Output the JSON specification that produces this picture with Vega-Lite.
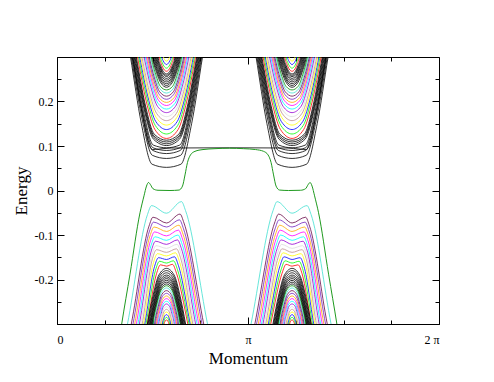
{
"$schema":"https://vega.github.io/schema/vega-lite/v6.json",
"width":382,"height":267,"autosize":"none",
"padding":{"left":57,"top":57,"right":55,"bottom":58},
"background":"white",
"config":{"view":{"stroke":"black","strokeWidth":1},
"axis":{"grid":false,"domainColor":"black","tickColor":"black","labelColor":"black","titleColor":"black","labelFont":"Liberation Serif","titleFont":"Liberation Serif","labelFontSize":12,"titleFontSize":17,"titleFontWeight":"normal","tickWidth":1}},
"datasets":{
"bands":[
{"b":"c1","c":"black","x":[0.3565,0.3848,0.4414,0.4979,0.5733,0.6487,0.7052,0.7618,0.7901,1.4475,1.4192,1.3626,1.3061,1.2307,1.1553,1.0988,1.0422,1.0139],"y":[0.374,0.3,0.151,0.059,0.052,0.059,0.151,0.3,0.374,0.374,0.3,0.151,0.059,0.052,0.059,0.151,0.3,0.374]},
{"b":"c2","c":"black","x":[0.3614,0.389,0.4443,0.4996,0.5733,0.647,0.7023,0.7576,0.7852,1.4426,1.415,1.3597,1.3044,1.2307,1.157,1.1017,1.0464,1.0188],"y":[0.368,0.3,0.163,0.079,0.072,0.079,0.163,0.3,0.368,0.368,0.3,0.163,0.079,0.072,0.079,0.163,0.3,0.368]},
{"b":"c3","c":"black","x":[0.3662,0.3932,0.4472,0.5013,0.5733,0.6453,0.6994,0.7534,0.7804,1.4378,1.4108,1.3568,1.3027,1.2307,1.1587,1.1046,1.0506,1.0236],"y":[0.365,0.3,0.17,0.09,0.083,0.09,0.17,0.3,0.365,0.365,0.3,0.17,0.09,0.083,0.09,0.17,0.3,0.365]},
{"b":"c4","c":"black","x":[0.3704,0.3969,0.4498,0.5027,0.5733,0.6439,0.6968,0.7497,0.7762,1.4336,1.4071,1.3542,1.3013,1.2307,1.1601,1.1072,1.0543,1.0278],"y":[0.363,0.3,0.174,0.096,0.09,0.096,0.174,0.3,0.363,0.363,0.3,0.174,0.096,0.09,0.096,0.174,0.3,0.363]},
{"b":"c5","c":"black","x":[0.3746,0.4005,0.4524,0.5042,0.5733,0.6424,0.6942,0.7461,0.772,1.4294,1.4035,1.3516,1.2998,1.2307,1.1616,1.1098,1.0579,1.032],"y":[0.361,0.3,0.178,0.102,0.096,0.102,0.178,0.3,0.361,0.361,0.3,0.178,0.102,0.096,0.102,0.178,0.3,0.361]},
{"b":"c6","c":"black","x":[0.3788,0.4042,0.4549,0.5057,0.5733,0.6409,0.6917,0.7424,0.7678,1.4252,1.3998,1.3491,1.2983,1.2307,1.1631,1.1123,1.0616,1.0362],"y":[0.36,0.3,0.185,0.115,0.101,0.115,0.185,0.3,0.36,0.36,0.3,0.185,0.115,0.101,0.115,0.185,0.3,0.36]},
{"b":"c7","c":"black","x":[0.383,0.4079,0.4575,0.5071,0.5733,0.6395,0.6891,0.7387,0.7636,1.421,1.3961,1.3465,1.2969,1.2307,1.1645,1.1149,1.0653,1.0404],"y":[0.358,0.3,0.187,0.119,0.105,0.119,0.187,0.3,0.358,0.358,0.3,0.187,0.119,0.105,0.119,0.187,0.3,0.358]},
{"b":"c8","c":"black","x":[0.3873,0.4115,0.4601,0.5086,0.5733,0.638,0.6865,0.7351,0.7593,1.4167,1.3925,1.3439,1.2954,1.2307,1.166,1.1175,1.0689,1.0447],"y":[0.357,0.3,0.189,0.122,0.109,0.122,0.189,0.3,0.357,0.357,0.3,0.189,0.122,0.109,0.122,0.189,0.3,0.357]},
{"b":"c9","c":"black","x":[0.3915,0.4152,0.4626,0.5101,0.5733,0.6365,0.684,0.7314,0.7551,1.4125,1.3888,1.3414,1.2939,1.2307,1.1675,1.12,1.0726,1.0489],"y":[0.356,0.3,0.192,0.126,0.113,0.126,0.192,0.3,0.356,0.356,0.3,0.192,0.126,0.113,0.126,0.192,0.3,0.356]},
{"b":"cf","c":"black","x":[0.3686,0.3953,0.4476,0.4843,0.5,0.5314,0.5995,0.902,1.2045,1.2726,1.304,1.3197,1.3564,1.4087,1.4354],"y":[0.36,0.3,0.17,0.1,0.092,0.093,0.0955,0.096,0.0955,0.093,0.092,0.1,0.17,0.3,0.36]},
{"b":"c10","c":"red","x":[0.3987,0.4215,0.467,0.5126,0.5733,0.634,0.6796,0.7251,0.7479,1.4053,1.3825,1.337,1.2914,1.2307,1.17,1.1244,1.0789,1.0561],"y":[0.355,0.3,0.201,0.137,0.117,0.137,0.201,0.3,0.355,0.355,0.3,0.201,0.137,0.117,0.137,0.201,0.3,0.355]},
{"b":"c11","c":"green","x":[0.4053,0.4272,0.4711,0.5149,0.5733,0.6317,0.6755,0.7194,0.7413,1.3987,1.3768,1.3329,1.2891,1.2307,1.1723,1.1285,1.0846,1.0627],"y":[0.352,0.3,0.207,0.146,0.127,0.146,0.207,0.3,0.352,0.352,0.3,0.207,0.146,0.127,0.146,0.207,0.3,0.352]},
{"b":"c12","c":"blue","x":[0.4119,0.433,0.4751,0.5172,0.5733,0.6294,0.6715,0.7136,0.7347,1.3921,1.371,1.3289,1.2868,1.2307,1.1746,1.1325,1.0904,1.0693],"y":[0.349,0.3,0.212,0.155,0.137,0.155,0.212,0.3,0.349,0.349,0.3,0.212,0.155,0.137,0.155,0.212,0.3,0.349]},
{"b":"c13","c":"yellow","x":[0.4186,0.4387,0.4791,0.5195,0.5733,0.6271,0.6675,0.7079,0.728,1.3854,1.3653,1.3249,1.2845,1.2307,1.1769,1.1365,1.0961,1.076],"y":[0.346,0.3,0.217,0.164,0.147,0.164,0.217,0.3,0.346,0.346,0.3,0.217,0.164,0.147,0.164,0.217,0.3,0.346]},
{"b":"c14","c":"brown","x":[0.4252,0.4445,0.4831,0.5218,0.5733,0.6248,0.6635,0.7021,0.7214,1.3788,1.3595,1.3209,1.2822,1.2307,1.1792,1.1405,1.1019,1.0826],"y":[0.343,0.3,0.223,0.173,0.157,0.173,0.223,0.3,0.343,0.343,0.3,0.223,0.173,0.157,0.173,0.223,0.3,0.343]},
{"b":"c15","c":"grey","x":[0.4318,0.4503,0.4872,0.5241,0.5733,0.6225,0.6594,0.6963,0.7148,1.3722,1.3537,1.3168,1.2799,1.2307,1.1815,1.1446,1.1077,1.0892],"y":[0.34,0.3,0.228,0.181,0.166,0.181,0.228,0.3,0.34,0.34,0.3,0.228,0.181,0.166,0.181,0.228,0.3,0.34]},
{"b":"c16","c":"violet","x":[0.4384,0.456,0.4912,0.5264,0.5733,0.6202,0.6554,0.6906,0.7082,1.3656,1.348,1.3128,1.2776,1.2307,1.1838,1.1486,1.1134,1.0958],"y":[0.338,0.3,0.233,0.189,0.175,0.189,0.233,0.3,0.338,0.338,0.3,0.233,0.189,0.175,0.189,0.233,0.3,0.338]},
{"b":"c17","c":"cyan","x":[0.4451,0.4618,0.4952,0.5287,0.5733,0.6179,0.6514,0.6848,0.7015,1.3589,1.3422,1.3088,1.2753,1.2307,1.1861,1.1526,1.1192,1.1025],"y":[0.335,0.3,0.237,0.196,0.183,0.196,0.237,0.3,0.335,0.335,0.3,0.237,0.196,0.183,0.196,0.237,0.3,0.335]},
{"b":"c18","c":"magenta","x":[0.4517,0.4675,0.4993,0.531,0.5733,0.6156,0.6473,0.6791,0.6949,1.3523,1.3365,1.3047,1.273,1.2307,1.1884,1.1567,1.1249,1.1091],"y":[0.333,0.3,0.241,0.203,0.191,0.203,0.241,0.3,0.333,0.333,0.3,0.241,0.203,0.191,0.203,0.241,0.3,0.333]},
{"b":"c19","c":"orange","x":[0.4577,0.4728,0.5029,0.5331,0.5733,0.6135,0.6437,0.6738,0.6889,1.3463,1.3312,1.3011,1.2709,1.2307,1.1905,1.1603,1.1302,1.1151],"y":[0.331,0.3,0.245,0.209,0.198,0.209,0.245,0.3,0.331,0.331,0.3,0.245,0.209,0.198,0.209,0.245,0.3,0.331]},
{"b":"c20","c":"indigo","x":[0.4637,0.478,0.5066,0.5352,0.5733,0.6114,0.64,0.6686,0.6829,1.3403,1.326,1.2974,1.2688,1.2307,1.1926,1.164,1.1354,1.1211],"y":[0.33,0.3,0.249,0.216,0.205,0.216,0.249,0.3,0.33,0.33,0.3,0.249,0.216,0.205,0.216,0.249,0.3,0.33]},
{"b":"c21","c":"maroon","x":[0.4697,0.4832,0.5103,0.5373,0.5733,0.6093,0.6363,0.6634,0.6769,1.3343,1.3208,1.2937,1.2667,1.2307,1.1947,1.1677,1.1406,1.1271],"y":[0.33,0.3,0.253,0.222,0.212,0.222,0.253,0.3,0.33,0.33,0.3,0.253,0.222,0.212,0.222,0.253,0.3,0.33]},
{"b":"c22","c":"turquoise","x":[0.4758,0.4885,0.5139,0.5394,0.5733,0.6072,0.6327,0.6581,0.6708,1.3282,1.3155,1.2901,1.2646,1.2307,1.1968,1.1713,1.1459,1.1332],"y":[0.33,0.3,0.256,0.228,0.219,0.228,0.256,0.3,0.33,0.33,0.3,0.256,0.228,0.219,0.228,0.256,0.3,0.33]},
{"b":"c23","c":"green4","x":[0.4818,0.4937,0.5176,0.5415,0.5733,0.6051,0.629,0.6529,0.6648,1.3222,1.3103,1.2864,1.2625,1.2307,1.1989,1.175,1.1511,1.1392],"y":[0.33,0.3,0.26,0.234,0.226,0.234,0.26,0.3,0.33,0.33,0.3,0.26,0.234,0.226,0.234,0.26,0.3,0.33]},
{"b":"u1","c":"black","x":[0.4878,0.499,0.5213,0.5436,0.5733,0.603,0.6253,0.6476,0.6588,1.3162,1.305,1.2827,1.2604,1.2307,1.201,1.1787,1.1564,1.1452],"y":[0.33,0.3,0.265,0.242,0.232,0.242,0.265,0.3,0.33,0.33,0.3,0.265,0.242,0.232,0.242,0.265,0.3,0.33]},
{"b":"u2","c":"black","x":[0.4926,0.5031,0.5242,0.5452,0.5733,0.6014,0.6224,0.6435,0.654,1.3114,1.3009,1.2798,1.2588,1.2307,1.2026,1.1816,1.1605,1.15],"y":[0.33,0.3,0.267,0.246,0.236,0.246,0.267,0.3,0.33,0.33,0.3,0.267,0.246,0.236,0.246,0.267,0.3,0.33]},
{"b":"u3","c":"black","x":[0.4974,0.5073,0.5271,0.5469,0.5733,0.5997,0.6195,0.6393,0.6492,1.3066,1.2967,1.2769,1.2571,1.2307,1.2043,1.1845,1.1647,1.1548],"y":[0.33,0.3,0.269,0.249,0.24,0.249,0.269,0.3,0.33,0.33,0.3,0.269,0.249,0.24,0.249,0.269,0.3,0.33]},
{"b":"u4","c":"black","x":[0.5017,0.511,0.5297,0.5484,0.5733,0.5982,0.6169,0.6356,0.6449,1.3023,1.293,1.2743,1.2556,1.2307,1.2058,1.1871,1.1684,1.1591],"y":[0.33,0.3,0.271,0.252,0.244,0.252,0.271,0.3,0.33,0.33,0.3,0.271,0.252,0.244,0.252,0.271,0.3,0.33]},
{"b":"u5","c":"black","x":[0.5059,0.5147,0.5323,0.5498,0.5733,0.5968,0.6143,0.6319,0.6407,1.2981,1.2893,1.2717,1.2542,1.2307,1.2072,1.1897,1.1721,1.1633],"y":[0.33,0.3,0.274,0.256,0.248,0.256,0.274,0.3,0.33,0.33,0.3,0.274,0.256,0.248,0.256,0.274,0.3,0.33]},
{"b":"u6","c":"black","x":[0.5101,0.5183,0.5348,0.5513,0.5733,0.5953,0.6118,0.6283,0.6365,1.2939,1.2857,1.2692,1.2527,1.2307,1.2087,1.1922,1.1757,1.1675],"y":[0.33,0.3,0.276,0.259,0.252,0.259,0.276,0.3,0.33,0.33,0.3,0.276,0.259,0.252,0.259,0.276,0.3,0.33]},
{"b":"u7","c":"black","x":[0.5143,0.522,0.5374,0.5528,0.5733,0.5938,0.6092,0.6246,0.6323,1.2897,1.282,1.2666,1.2512,1.2307,1.2102,1.1948,1.1794,1.1717],"y":[0.33,0.3,0.278,0.263,0.256,0.263,0.278,0.3,0.33,0.33,0.3,0.278,0.263,0.256,0.263,0.278,0.3,0.33]},
{"b":"u8","c":"black","x":[0.5185,0.5257,0.54,0.5542,0.5733,0.5924,0.6066,0.6209,0.6281,1.2855,1.2783,1.264,1.2498,1.2307,1.2116,1.1974,1.1831,1.1759],"y":[0.33,0.3,0.279,0.265,0.259,0.265,0.279,0.3,0.33,0.33,0.3,0.279,0.265,0.259,0.265,0.279,0.3,0.33]},
{"b":"u9","c":"black","x":[0.5227,0.5293,0.5425,0.5557,0.5733,0.5909,0.6041,0.6173,0.6239,1.2813,1.2747,1.2615,1.2483,1.2307,1.2131,1.1999,1.1867,1.1801],"y":[0.33,0.3,0.281,0.268,0.262,0.268,0.281,0.3,0.33,0.33,0.3,0.281,0.268,0.262,0.268,0.281,0.3,0.33]},
{"b":"u10","c":"red","x":[0.5299,0.5356,0.5469,0.5582,0.5733,0.5884,0.5997,0.611,0.6167,1.2741,1.2684,1.2571,1.2458,1.2307,1.2156,1.2043,1.193,1.1873],"y":[0.33,0.3,0.284,0.273,0.268,0.273,0.284,0.3,0.33,0.33,0.3,0.284,0.273,0.268,0.273,0.284,0.3,0.33]},
{"b":"u11","c":"green","x":[0.5372,0.5419,0.5513,0.5607,0.5733,0.5859,0.5953,0.6047,0.6094,1.2668,1.2621,1.2527,1.2433,1.2307,1.2181,1.2087,1.1993,1.1946],"y":[0.33,0.3,0.287,0.279,0.275,0.279,0.287,0.3,0.33,0.33,0.3,0.287,0.279,0.275,0.279,0.287,0.3,0.33]},
{"b":"u12","c":"blue","x":[0.5456,0.5492,0.5564,0.5637,0.5733,0.5829,0.5902,0.5974,0.601,1.2584,1.2548,1.2476,1.2403,1.2307,1.2211,1.2138,1.2066,1.203],"y":[0.33,0.3,0.291,0.286,0.283,0.286,0.291,0.3,0.33,0.33,0.3,0.291,0.286,0.283,0.286,0.291,0.3,0.33]},
{"b":"u13","c":"yellow","x":[0.5552,0.5576,0.5623,0.567,0.5733,0.5796,0.5843,0.589,0.5914,1.2488,1.2464,1.2417,1.237,1.2307,1.2244,1.2197,1.215,1.2126],"y":[0.33,0.3,0.295,0.292,0.291,0.292,0.295,0.3,0.33,0.33,0.3,0.295,0.292,0.291,0.292,0.295,0.3,0.33]},
{"b":"v1","c":"turquoise","x":[0.3482,0.3691,0.4738,0.4948,0.5733,0.6518,0.6728,0.788,0.8089,1.4558,1.4349,1.3302,1.3092,1.2307,1.1522,1.1312,1.016,0.9951],"y":[-0.345,-0.3,-0.054,-0.034,-0.051,-0.025,-0.045,-0.3,-0.345,-0.345,-0.3,-0.054,-0.034,-0.051,-0.025,-0.045,-0.3,-0.345]},
{"b":"v2","c":"maroon","x":[0.3681,0.389,0.4817,0.5026,0.5733,0.644,0.6649,0.7681,0.789,1.4359,1.415,1.3223,1.3014,1.2307,1.16,1.1391,1.0359,1.015],"y":[-0.345,-0.3,-0.08,-0.06,-0.073,-0.053,-0.073,-0.3,-0.345,-0.345,-0.3,-0.08,-0.06,-0.073,-0.053,-0.073,-0.3,-0.345]},
{"b":"v3","c":"indigo","x":[0.377,0.3979,0.4843,0.5052,0.5733,0.6414,0.6623,0.7592,0.7801,1.427,1.4061,1.3197,1.2988,1.2307,1.1626,1.1417,1.0448,1.0239],"y":[-0.345,-0.3,-0.091,-0.071,-0.082,-0.066,-0.086,-0.3,-0.345,-0.345,-0.3,-0.091,-0.071,-0.082,-0.066,-0.086,-0.3,-0.345]},
{"b":"v4","c":"orange","x":[0.3859,0.4068,0.4869,0.5079,0.5733,0.6387,0.6597,0.7503,0.7712,1.4181,1.3972,1.3171,1.2961,1.2307,1.1653,1.1443,1.0537,1.0328],"y":[-0.345,-0.3,-0.102,-0.082,-0.092,-0.078,-0.098,-0.3,-0.345,-0.345,-0.3,-0.102,-0.082,-0.092,-0.078,-0.098,-0.3,-0.345]},
{"b":"v5","c":"magenta","x":[0.3942,0.4152,0.4895,0.5105,0.5733,0.6361,0.6571,0.7419,0.7628,1.4098,1.3888,1.3145,1.2935,1.2307,1.1679,1.1469,1.0621,1.0412],"y":[-0.345,-0.3,-0.113,-0.093,-0.102,-0.089,-0.109,-0.3,-0.345,-0.345,-0.3,-0.113,-0.093,-0.102,-0.089,-0.109,-0.3,-0.345]},
{"b":"v6","c":"cyan","x":[0.4026,0.4236,0.4921,0.5131,0.5733,0.6335,0.6545,0.7335,0.7545,1.4014,1.3804,1.3119,1.2909,1.2307,1.1705,1.1495,1.0705,1.0495],"y":[-0.345,-0.3,-0.124,-0.104,-0.112,-0.1,-0.12,-0.3,-0.345,-0.345,-0.3,-0.124,-0.104,-0.112,-0.1,-0.12,-0.3,-0.345]},
{"b":"v7","c":"violet","x":[0.4105,0.4314,0.4948,0.5157,0.5733,0.6309,0.6518,0.7257,0.7466,1.3935,1.3726,1.3092,1.2883,1.2307,1.1731,1.1522,1.0783,1.0574],"y":[-0.345,-0.3,-0.134,-0.114,-0.121,-0.111,-0.131,-0.3,-0.345,-0.345,-0.3,-0.134,-0.114,-0.121,-0.111,-0.131,-0.3,-0.345]},
{"b":"v8","c":"grey","x":[0.4178,0.4387,0.4974,0.5183,0.5733,0.6283,0.6492,0.7183,0.7393,1.3862,1.3653,1.3066,1.2857,1.2307,1.1757,1.1548,1.0857,1.0647],"y":[-0.345,-0.3,-0.144,-0.124,-0.13,-0.121,-0.141,-0.3,-0.345,-0.345,-0.3,-0.144,-0.124,-0.13,-0.121,-0.141,-0.3,-0.345]},
{"b":"v9","c":"brown","x":[0.4251,0.4461,0.5,0.5209,0.5733,0.6257,0.6466,0.711,0.7319,1.3789,1.3579,1.304,1.2831,1.2307,1.1783,1.1574,1.093,1.0721],"y":[-0.345,-0.3,-0.153,-0.133,-0.139,-0.131,-0.151,-0.3,-0.345,-0.345,-0.3,-0.153,-0.133,-0.139,-0.131,-0.151,-0.3,-0.345]},
{"b":"v10","c":"yellow","x":[0.4319,0.4529,0.5052,0.5262,0.5733,0.6204,0.6414,0.7042,0.7251,1.3721,1.3511,1.2988,1.2778,1.2307,1.1836,1.1626,1.0998,1.0789],"y":[-0.345,-0.3,-0.162,-0.142,-0.147,-0.14,-0.16,-0.3,-0.345,-0.345,-0.3,-0.162,-0.142,-0.147,-0.14,-0.16,-0.3,-0.345]},
{"b":"v11","c":"blue","x":[0.4387,0.4597,0.5105,0.5314,0.5733,0.6152,0.6361,0.6974,0.7183,1.3653,1.3443,1.2935,1.2726,1.2307,1.1888,1.1679,1.1066,1.0857],"y":[-0.345,-0.3,-0.171,-0.151,-0.155,-0.149,-0.169,-0.3,-0.345,-0.345,-0.3,-0.171,-0.151,-0.155,-0.149,-0.169,-0.3,-0.345]},
{"b":"v12","c":"green","x":[0.445,0.466,0.5157,0.5367,0.5733,0.6099,0.6309,0.6911,0.712,1.359,1.338,1.2883,1.2673,1.2307,1.1941,1.1731,1.1129,1.092],"y":[-0.345,-0.3,-0.179,-0.159,-0.163,-0.158,-0.178,-0.3,-0.345,-0.345,-0.3,-0.179,-0.159,-0.163,-0.158,-0.178,-0.3,-0.345]},
{"b":"v13","c":"red","x":[0.4513,0.4723,0.5209,0.5419,0.5733,0.6047,0.6257,0.6848,0.7058,1.3527,1.3317,1.2831,1.2621,1.2307,1.1993,1.1783,1.1192,1.0982],"y":[-0.345,-0.3,-0.187,-0.167,-0.17,-0.166,-0.186,-0.3,-0.345,-0.345,-0.3,-0.187,-0.167,-0.17,-0.166,-0.186,-0.3,-0.345]},
{"b":"w1","c":"black","x":[0.4583,0.4733,0.5033,0.5333,0.5733,0.6133,0.6433,0.6733,0.6883,1.3457,1.3307,1.3007,1.2707,1.2307,1.1907,1.1607,1.1307,1.1157],"y":[-0.338,-0.3,-0.235,-0.19,-0.175,-0.19,-0.235,-0.3,-0.338,-0.338,-0.3,-0.235,-0.19,-0.175,-0.19,-0.235,-0.3,-0.338]},
{"b":"w2","c":"black","x":[0.4625,0.477,0.5059,0.5348,0.5733,0.6118,0.6407,0.6696,0.6841,1.3415,1.327,1.2981,1.2692,1.2307,1.1922,1.1633,1.1344,1.1199],"y":[-0.336,-0.3,-0.238,-0.194,-0.18,-0.194,-0.238,-0.3,-0.336,-0.336,-0.3,-0.238,-0.194,-0.18,-0.194,-0.238,-0.3,-0.336]},
{"b":"w3","c":"black","x":[0.467,0.4809,0.5086,0.5363,0.5733,0.6103,0.638,0.6657,0.6796,1.337,1.3231,1.2954,1.2677,1.2307,1.1937,1.166,1.1383,1.1244],"y":[-0.335,-0.3,-0.24,-0.199,-0.185,-0.199,-0.24,-0.3,-0.335,-0.335,-0.3,-0.24,-0.199,-0.185,-0.199,-0.24,-0.3,-0.335]},
{"b":"w4","c":"black","x":[0.4715,0.4848,0.5114,0.5379,0.5733,0.6087,0.6352,0.6618,0.6751,1.3325,1.3192,1.2926,1.2661,1.2307,1.1953,1.1688,1.1422,1.1289],"y":[-0.333,-0.3,-0.243,-0.203,-0.19,-0.203,-0.243,-0.3,-0.333,-0.333,-0.3,-0.243,-0.203,-0.19,-0.203,-0.243,-0.3,-0.333]},
{"b":"w5","c":"black","x":[0.4749,0.4877,0.5134,0.5391,0.5733,0.6075,0.6332,0.6589,0.6717,1.3291,1.3163,1.2906,1.2649,1.2307,1.1965,1.1708,1.1451,1.1323],"y":[-0.333,-0.3,-0.245,-0.207,-0.194,-0.207,-0.245,-0.3,-0.333,-0.333,-0.3,-0.245,-0.207,-0.194,-0.207,-0.245,-0.3,-0.333]},
{"b":"w6","c":"black","x":[0.4782,0.4906,0.5154,0.5402,0.5733,0.6064,0.6312,0.656,0.6684,1.3258,1.3134,1.2886,1.2638,1.2307,1.1976,1.1728,1.148,1.1356],"y":[-0.333,-0.3,-0.247,-0.21,-0.198,-0.21,-0.247,-0.3,-0.333,-0.333,-0.3,-0.247,-0.21,-0.198,-0.21,-0.247,-0.3,-0.333]},
{"b":"w7","c":"black","x":[0.4818,0.4937,0.5176,0.5415,0.5733,0.6051,0.629,0.6529,0.6648,1.3222,1.3103,1.2864,1.2625,1.2307,1.1989,1.175,1.1511,1.1392],"y":[-0.333,-0.3,-0.249,-0.214,-0.202,-0.214,-0.249,-0.3,-0.333,-0.333,-0.3,-0.249,-0.214,-0.202,-0.214,-0.249,-0.3,-0.333]},
{"b":"w8","c":"black","x":[0.4854,0.4969,0.5198,0.5427,0.5733,0.6039,0.6268,0.6497,0.6612,1.3186,1.3071,1.2842,1.2613,1.2307,1.2001,1.1772,1.1543,1.1428],"y":[-0.333,-0.3,-0.251,-0.217,-0.206,-0.217,-0.251,-0.3,-0.333,-0.333,-0.3,-0.251,-0.217,-0.206,-0.217,-0.251,-0.3,-0.333]},
{"b":"w9","c":"black","x":[0.4887,0.4997,0.5218,0.5439,0.5733,0.6027,0.6248,0.6469,0.6579,1.3153,1.3043,1.2822,1.2601,1.2307,1.2013,1.1792,1.1571,1.1461],"y":[-0.333,-0.3,-0.253,-0.221,-0.21,-0.221,-0.253,-0.3,-0.333,-0.333,-0.3,-0.253,-0.221,-0.21,-0.221,-0.253,-0.3,-0.333]},
{"b":"w10","c":"green4","x":[0.492,0.5026,0.5238,0.545,0.5733,0.6016,0.6228,0.644,0.6546,1.312,1.3014,1.2802,1.259,1.2307,1.2024,1.1812,1.16,1.1494],"y":[-0.333,-0.3,-0.255,-0.224,-0.214,-0.224,-0.255,-0.3,-0.333,-0.333,-0.3,-0.255,-0.224,-0.214,-0.224,-0.255,-0.3,-0.333]},
{"b":"w11","c":"turquoise","x":[0.4965,0.5065,0.5266,0.5466,0.5733,0.6,0.62,0.6401,0.6501,1.3075,1.2975,1.2774,1.2574,1.2307,1.204,1.184,1.1639,1.1539],"y":[-0.333,-0.3,-0.258,-0.229,-0.219,-0.229,-0.258,-0.3,-0.333,-0.333,-0.3,-0.258,-0.229,-0.219,-0.229,-0.258,-0.3,-0.333]},
{"b":"w12","c":"maroon","x":[0.5017,0.511,0.5297,0.5484,0.5733,0.5982,0.6169,0.6356,0.6449,1.3023,1.293,1.2743,1.2556,1.2307,1.2058,1.1871,1.1684,1.1591],"y":[-0.333,-0.3,-0.261,-0.234,-0.225,-0.234,-0.261,-0.3,-0.333,-0.333,-0.3,-0.261,-0.234,-0.225,-0.234,-0.261,-0.3,-0.333]},
{"b":"w13","c":"indigo","x":[0.5071,0.5157,0.533,0.5503,0.5733,0.5963,0.6136,0.6309,0.6395,1.2969,1.2883,1.271,1.2537,1.2307,1.2077,1.1904,1.1731,1.1645],"y":[-0.333,-0.3,-0.264,-0.239,-0.231,-0.239,-0.264,-0.3,-0.333,-0.333,-0.3,-0.264,-0.239,-0.231,-0.239,-0.264,-0.3,-0.333]},
{"b":"w14","c":"orange","x":[0.5122,0.5202,0.5361,0.552,0.5733,0.5946,0.6105,0.6264,0.6344,1.2918,1.2838,1.2679,1.252,1.2307,1.2094,1.1935,1.1776,1.1696],"y":[-0.333,-0.3,-0.267,-0.245,-0.237,-0.245,-0.267,-0.3,-0.333,-0.333,-0.3,-0.267,-0.245,-0.237,-0.245,-0.267,-0.3,-0.333]},
{"b":"w15","c":"magenta","x":[0.5173,0.5246,0.5392,0.5538,0.5733,0.5928,0.6074,0.622,0.6293,1.2867,1.2794,1.2648,1.2502,1.2307,1.2112,1.1966,1.182,1.1747],"y":[-0.333,-0.3,-0.27,-0.25,-0.243,-0.25,-0.27,-0.3,-0.333,-0.333,-0.3,-0.27,-0.25,-0.243,-0.25,-0.27,-0.3,-0.333]},
{"b":"w16","c":"cyan","x":[0.5227,0.5293,0.5425,0.5557,0.5733,0.5909,0.6041,0.6173,0.6239,1.2813,1.2747,1.2615,1.2483,1.2307,1.2131,1.1999,1.1867,1.1801],"y":[-0.333,-0.3,-0.274,-0.255,-0.249,-0.255,-0.274,-0.3,-0.333,-0.333,-0.3,-0.274,-0.255,-0.249,-0.255,-0.274,-0.3,-0.333]},
{"b":"w17","c":"violet","x":[0.5278,0.5338,0.5456,0.5575,0.5733,0.5891,0.601,0.6128,0.6188,1.2762,1.2702,1.2584,1.2465,1.2307,1.2149,1.203,1.1912,1.1852],"y":[-0.333,-0.3,-0.277,-0.26,-0.255,-0.26,-0.277,-0.3,-0.333,-0.333,-0.3,-0.277,-0.26,-0.255,-0.26,-0.277,-0.3,-0.333]},
{"b":"w18","c":"grey","x":[0.533,0.5382,0.5487,0.5593,0.5733,0.5873,0.5979,0.6084,0.6136,1.271,1.2658,1.2553,1.2447,1.2307,1.2167,1.2061,1.1956,1.1904],"y":[-0.333,-0.3,-0.28,-0.266,-0.261,-0.266,-0.28,-0.3,-0.333,-0.333,-0.3,-0.28,-0.266,-0.261,-0.266,-0.28,-0.3,-0.333]},
{"b":"w19","c":"brown","x":[0.5384,0.5429,0.552,0.5612,0.5733,0.5854,0.5946,0.6037,0.6082,1.2656,1.2611,1.252,1.2428,1.2307,1.2186,1.2094,1.2003,1.1958],"y":[-0.333,-0.3,-0.283,-0.271,-0.267,-0.271,-0.283,-0.3,-0.333,-0.333,-0.3,-0.283,-0.271,-0.267,-0.271,-0.283,-0.3,-0.333]},
{"b":"w20","c":"yellow","x":[0.5434,0.5473,0.5551,0.5629,0.5733,0.5837,0.5915,0.5993,0.6032,1.2606,1.2567,1.2489,1.2411,1.2307,1.2203,1.2125,1.2047,1.2008],"y":[-0.333,-0.3,-0.286,-0.276,-0.273,-0.276,-0.286,-0.3,-0.333,-0.333,-0.3,-0.286,-0.276,-0.273,-0.276,-0.286,-0.3,-0.333]},
{"b":"w21","c":"blue","x":[0.5486,0.5518,0.5583,0.5647,0.5733,0.5819,0.5883,0.5948,0.598,1.2554,1.2522,1.2457,1.2393,1.2307,1.2221,1.2157,1.2092,1.206],"y":[-0.333,-0.3,-0.289,-0.2815,-0.279,-0.2815,-0.289,-0.3,-0.333,-0.333,-0.3,-0.289,-0.2815,-0.279,-0.2815,-0.289,-0.3,-0.333]},
{"b":"w22","c":"green","x":[0.554,0.5565,0.5616,0.5666,0.5733,0.58,0.585,0.5901,0.5926,1.25,1.2475,1.2424,1.2374,1.2307,1.224,1.219,1.2139,1.2114],"y":[-0.333,-0.3,-0.292,-0.287,-0.285,-0.287,-0.292,-0.3,-0.333,-0.333,-0.3,-0.292,-0.287,-0.285,-0.287,-0.292,-0.3,-0.333]},
{"b":"w23","c":"red","x":[0.559,0.5609,0.5646,0.5683,0.5733,0.5783,0.582,0.5857,0.5876,1.245,1.2431,1.2394,1.2357,1.2307,1.2257,1.222,1.2183,1.2164],"y":[-0.333,-0.3,-0.295,-0.292,-0.291,-0.292,-0.295,-0.3,-0.333,-0.333,-0.3,-0.295,-0.292,-0.291,-0.292,-0.295,-0.3,-0.333]}
],
"edge":[
{"b":"edge","x":[0.3141,0.3387,0.3822,0.4346,0.4555,0.4686,0.4791,0.4895,0.5026,0.5288,0.5916,0.6387,0.6571,0.6702,0.6832,0.699,0.7225,0.7644,0.8272,0.902,0.9768,1.0396,1.0815,1.105,1.1208,1.1338,1.1469,1.1653,1.2124,1.2752,1.3014,1.3145,1.3249,1.3354,1.3485,1.3694,1.4218,1.4653,1.4899],"y":[-0.37,-0.3,-0.188,-0.05,-0.012,0.01,0.018,0.013,0.004,0.0005,0,0.001,0.01,0.035,0.063,0.08,0.088,0.092,0.094,0.095,0.094,0.092,0.088,0.08,0.063,0.035,0.01,0.001,0,0.0005,0.004,0.013,0.018,0.01,-0.012,-0.05,-0.188,-0.3,-0.37]}
]
},
"layer":[
{"data":{"name":"bands"},"transform":[{"flatten":["x","y"]}],
"mark":{"type":"line","interpolate":"monotone","clip":true,"strokeWidth":0.8},
"encoding":{
"x":{"field":"x","type":"quantitative","scale":{"domain":[0,2],"nice":false,"zero":false},
"axis":{"orient":"bottom","title":"Momentum","values":[0,0.25,0.5,0.75,1,1.25,1.5,1.75,2],"labelExpr":"datum.value===0?'0':datum.value===1?'π':datum.value===2?'2 π':''","tickSize":{"condition":{"test":"datum.value===0||datum.value===1||datum.value===2","value":-7},"value":-4},"labelPadding":17,"titlePadding":5}},
"y":{"field":"y","type":"quantitative","scale":{"domain":[-0.3,0.3],"nice":false,"zero":false},
"axis":{"orient":"left","title":"Energy","values":[-0.25,-0.2,-0.15,-0.1,-0.05,0,0.05,0.1,0.15,0.2,0.25],"labelExpr":"datum.value===0.2?'0.2':datum.value===0.1?'0.1':datum.value===0?'0':datum.value===-0.1?'-0.1':datum.value===-0.2?'-0.2':''","tickSize":{"condition":{"test":"datum.value===0.2||datum.value===0.1||datum.value===0||datum.value===-0.1||datum.value===-0.2","value":-7},"value":-4},"labelPadding":11,"titlePadding":4}},
"color":{"field":"c","type":"nominal","legend":null,"scale":{"domain":["black","red","green","blue","yellow","brown","grey","violet","cyan","magenta","orange","indigo","maroon","turquoise","green4"],"range":["#000000","#ff0000","#00ff00","#0000ff","#ffff00","#bc8f8f","#dcdcdc","#9400d3","#00ffff","#ff00ff","#ffa500","#7221bc","#670748","#40e0d0","#008b00"]}},
"detail":{"field":"b","type":"nominal"}}},
{"data":{"name":"edge"},"transform":[{"flatten":["x","y"]}],
"mark":{"type":"line","interpolate":"monotone","clip":true,"strokeWidth":1,"color":"#1f9a1f"},
"encoding":{
"x":{"field":"x","type":"quantitative","scale":{"domain":[0,2],"nice":false,"zero":false},
"axis":{"orient":"top","title":null,"labels":false,"domain":false,"values":[0,0.25,0.5,0.75,1,1.25,1.5,1.75,2],"tickSize":{"condition":{"test":"datum.value===0||datum.value===1||datum.value===2","value":-7},"value":-4}}},
"y":{"field":"y","type":"quantitative","scale":{"domain":[-0.3,0.3],"nice":false,"zero":false},
"axis":{"orient":"right","title":null,"labels":false,"domain":false,"values":[-0.25,-0.2,-0.15,-0.1,-0.05,0,0.05,0.1,0.15,0.2,0.25],"tickSize":{"condition":{"test":"datum.value===0.2||datum.value===0.1||datum.value===0||datum.value===-0.1||datum.value===-0.2","value":-7},"value":-4}}}}}
],
"resolve":{"axis":{"x":"independent","y":"independent"}}
}
